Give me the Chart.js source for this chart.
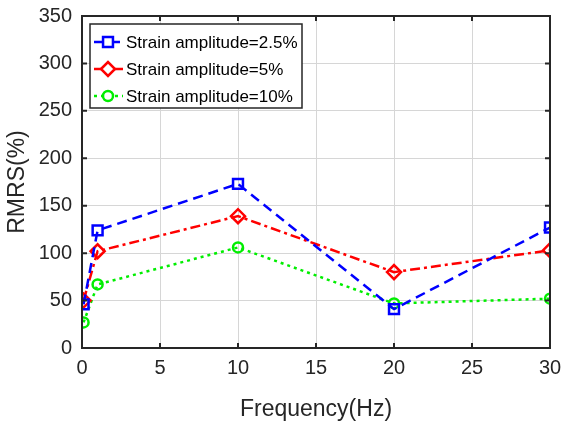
<!DOCTYPE html>
<html>
<head>
<meta charset="utf-8">
<script src="https://cdn.jsdelivr.net/npm/chart.js@4.4.1/dist/chart.umd.min.js"></script>
<style>
  html, body { margin: 0; padding: 0; background: #fff; }
  #wrap { width: 564px; height: 427px; }
</style>
</head>
<body>
<div id="wrap"><canvas id="c" width="564" height="427"></canvas></div>
<script>
// data
const freq = [0.1, 1, 10, 20, 30];
const amp25 = [46, 124, 173, 41, 127];
const amp5 = [50, 102, 139, 80, 103];
const amp10 = [27, 67, 106, 47, 52];
const seriesNames = ['Strain amplitude=2.5%', 'Strain amplitude=5%', 'Strain amplitude=10%'];
const xTicks = [0, 5, 10, 15, 20, 25, 30];
const yTicks = [0, 50, 100, 150, 200, 250, 300, 350];

const FONT = '"Liberation Sans", Arial, sans-serif';
const AXIS = '#262626';

function pts(ys) { return freq.map((x, i) => ({ x: x, y: ys[i] })); }

// box + inward ticks like matlab
const boxPlugin = {
  id: 'box',
  afterDraw(chart) {
    const ctx = chart.ctx, a = chart.chartArea;
    const xs = chart.scales.x, ys = chart.scales.y;
    ctx.save();
    ctx.strokeStyle = AXIS;
    ctx.lineWidth = 2;
    ctx.strokeRect(a.left, a.top, a.right - a.left, a.bottom - a.top);
    ctx.beginPath();
    xTicks.forEach(t => {
      const px = xs.getPixelForValue(t);
      ctx.moveTo(px, a.bottom); ctx.lineTo(px, a.bottom - 5);
      ctx.moveTo(px, a.top); ctx.lineTo(px, a.top + 5);
    });
    yTicks.forEach(t => {
      const py = ys.getPixelForValue(t);
      ctx.moveTo(a.left, py); ctx.lineTo(a.left + 5, py);
      ctx.moveTo(a.right, py); ctx.lineTo(a.right - 5, py);
    });
    ctx.stroke();
    ctx.restore();
  }
};

// legend drawn in the upper-left corner of the plot
const legendPlugin = {
  id: 'boxLegend',
  afterDatasetsDraw(chart) {
    const ctx = chart.ctx;
    const x0 = 90, y0 = 24, w = 212, h = 84;
    ctx.save();
    ctx.fillStyle = '#fff';
    ctx.fillRect(x0, y0, w, h);
    ctx.strokeStyle = AXIS;
    ctx.lineWidth = 1.5;
    ctx.strokeRect(x0, y0, w, h);
    ctx.font = '17px ' + FONT;
    ctx.textBaseline = 'middle';
    chart.data.datasets.forEach((ds, i) => {
      const cy = y0 + 18 + i * 27;
      ctx.strokeStyle = ds.borderColor;
      ctx.lineWidth = 2.5;
      ctx.setLineDash(ds.borderDash);
      ctx.beginPath();
      ctx.moveTo(x0 + 4, cy); ctx.lineTo(x0 + 33, cy);
      ctx.stroke();
      ctx.setLineDash([]);
      ctx.fillStyle = '#fff';
      Chart.helpers.drawPoint(ctx, {
        pointStyle: ds.pointStyle, radius: ds.pointRadius, borderWidth: 2.5, rotation: 0
      }, x0 + 18, cy);
      ctx.fillStyle = '#000';
      ctx.fillText(seriesNames[i], x0 + 36, cy + 1);
    });
    ctx.restore();
  }
};

function mk(label, data, color, dash, style, r) {
  return {
    label: label, data: pts(data),
    borderColor: color, backgroundColor: 'rgba(0,0,0,0)',
    pointBorderColor: color, pointBackgroundColor: 'rgba(0,0,0,0)',
    borderWidth: 2.5, borderDash: dash,
    pointStyle: style, pointRadius: r, pointBorderWidth: 2.5,
    tension: 0, fill: false
  };
}

new Chart(document.getElementById('c'), {
  type: 'line',
  data: {
    datasets: [
      mk(seriesNames[0], amp25, '#0000ff', [10, 6], 'rect', 7),
      mk(seriesNames[1], amp5, '#ff0000', [10, 4, 3, 4], 'rectRot', 7),
      mk(seriesNames[2], amp10, '#00ee00', [3, 4], 'circle', 5)
    ]
  },
  options: {
    responsive: false,
    animation: false,
    layout: { autoPadding: false, padding: { top: 16, right: 14, left: 0, bottom: 0 } },
    plugins: { legend: { display: false }, tooltip: { enabled: false } },
    scales: {
      x: {
        type: 'linear', min: 0, max: 30,
        afterFit: s => { s.height = 79; s.paddingLeft = 0; s.paddingRight = 0; },
        afterBuildTicks: s => { s.ticks = xTicks.map(v => ({ value: v })); },
        grid: { color: '#d6d6d6', lineWidth: 1, drawTicks: false },
        border: { display: false },
        ticks: { color: AXIS, font: { family: FONT, size: 20 }, padding: 8, maxRotation: 0 },
        title: { display: true, text: 'Frequency(Hz)', color: AXIS, font: { family: FONT, size: 23 }, padding: { top: 2 } }
      },
      y: {
        min: 0, max: 350,
        afterFit: s => { s.width = 82; s.paddingTop = 0; s.paddingBottom = 0; },
        afterBuildTicks: s => { s.ticks = yTicks.map(v => ({ value: v })); },
        grid: { color: '#d6d6d6', lineWidth: 1, drawTicks: false },
        border: { display: false },
        ticks: { color: AXIS, font: { family: FONT, size: 20 }, padding: 10 },
        title: { display: true, text: 'RMRS(%)', color: AXIS, font: { family: FONT, size: 23 }, padding: { bottom: 0 } }
      }
    }
  },
  plugins: [boxPlugin, legendPlugin]
});
</script>
</body>
</html>
